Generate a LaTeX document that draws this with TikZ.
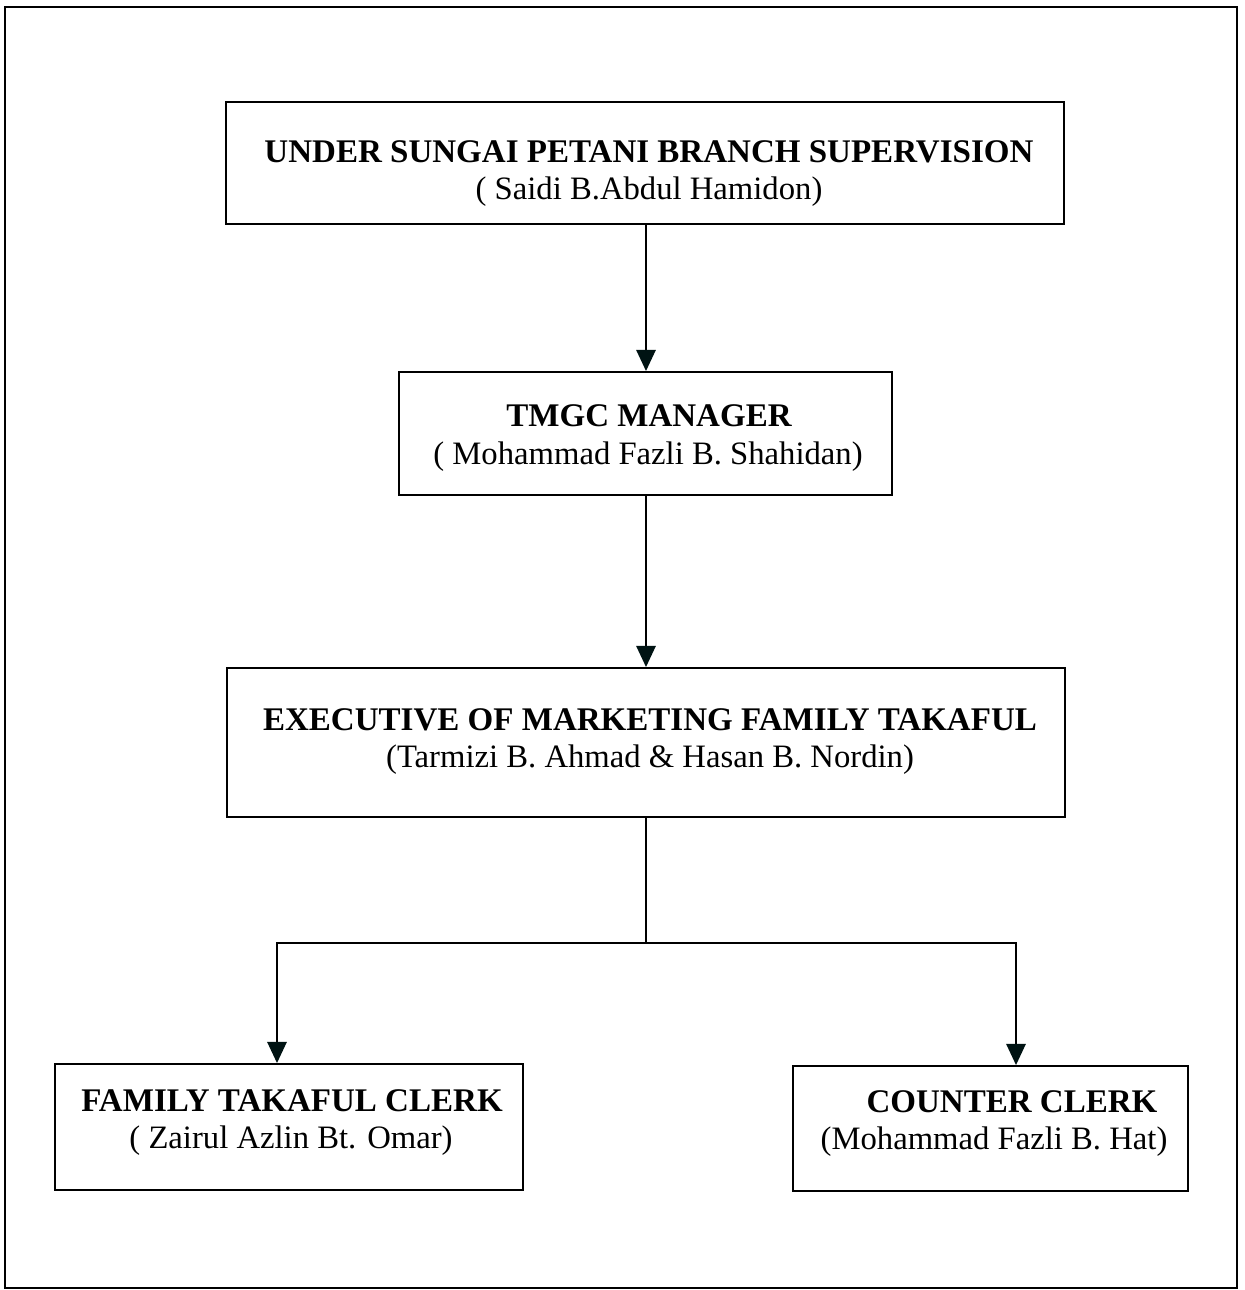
\documentclass[tikz,border=0pt]{standalone}
\usepackage{fontspec}
\setmainfont{Liberation Serif}
\usetikzlibrary{arrows.meta}
\newlength\pxu
\setlength\pxu{0.02cm}
\begin{document}
\begin{tikzpicture}[x=0.02cm,y=-0.02cm,
  box/.style={draw=black,line width=1.1pt,rectangle,inner sep=0pt},
  ttl/.style={anchor=base,inner sep=0pt,font=\fontsize{18.8}{22}\selectfont\bfseries},
  nme/.style={anchor=base,inner sep=0pt,font=\fontsize{18.6}{22}\selectfont},
  link/.style={line width=1pt,black},
  arr/.style={link,-{Triangle[length=12pt,width=11pt,color=black!85!teal]}}]
\useasboundingbox (0,0) rectangle (1244,1290);
\draw[line width=1.2pt] (5,7) rectangle (1237,1288);
% boxes
\node[box,minimum width={838*\pxu},minimum height={122*\pxu}] (top) at (645,163) {};
\node[box,minimum width={493*\pxu},minimum height={123*\pxu}] (tmgc) at (645.5,433.5) {};
\node[box,minimum width={838*\pxu},minimum height={149*\pxu}] (exec) at (646,742.5) {};
\node[box,minimum width={468*\pxu},minimum height={126*\pxu}] (fam) at (289,1127) {};
\node[box,minimum width={395*\pxu},minimum height={125*\pxu}] (cnt) at (990.5,1128.5) {};
% texts
\node[ttl] (topA) at (649,163) {UNDER SUNGAI PETANI BRANCH SUPERVISION};
\node[nme] (topB) at (649,200) {( Saidi B.Abdul Hamidon)};
\node[ttl] (tmgcA) at (649,426) {TMGC MANAGER};
\node[nme] (tmgcB) at (648,464) {( Mohammad Fazli B. Shahidan)};
\node[ttl] (execA) at (650,730) {EXECUTIVE OF MARKETING FAMILY TAKAFUL};
\node[nme] (execB) at (650,767) {(Tarmizi B. Ahmad \& Hasan B. Nordin)};
\node[ttl] (famA) at (292,1111) {FAMILY TAKAFUL CLERK};
\node[nme] (famB) at (291,1148) {( Zairul Azlin Bt. Omar)};
\node[ttl] (cntA) at (1012,1112) {COUNTER CLERK};
\node[nme] (cntB) at (994,1149) {(Mohammad Fazli B. Hat)};
% connectors
\coordinate (jc) at (646,943);
\coordinate (jl) at (277,943);
\coordinate (jr) at (1016,943);
\draw[arr] (top.south -| jc) -- (tmgc.north -| jc);
\draw[arr] (tmgc.south -| jc) -- (exec.north -| jc);
\draw[link] (exec.south -| jc) -- (jc);
\draw[link,line cap=rect] (jl) -- (jr);
\draw[arr] (jl) -- (jl |- fam.north);
\draw[arr] (jr) -- (jr |- cnt.north);
\end{tikzpicture}
\end{document}
